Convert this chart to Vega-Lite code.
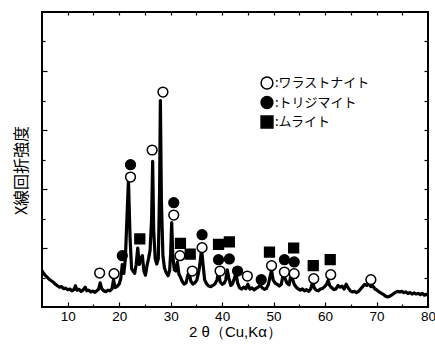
{
  "$schema": "https://vega.github.io/schema/vega-lite/v6.json",
  "width": 386,
  "height": 295,
  "autosize": {"type": "none"},
  "padding": {"left": 42, "top": 12, "right": 7, "bottom": 51},
  "background": "white",
  "config": {
    "view": {"stroke": "black", "strokeWidth": 2},
    "axis": {"domain": false, "grid": false, "tickColor": "black", "tickWidth": 1.2, "labelColor": "black", "titleColor": "black"}
  },
  "resolve": {"axis": {"x": "independent", "y": "independent"}},
  "layer": [
    {
      "data": {"values": [
        {"two_theta":5.0,"intensity":620},{"two_theta":5.3,"intensity":570},{"two_theta":5.6,"intensity":540},{"two_theta":6.0,"intensity":505},{"two_theta":6.4,"intensity":470},{"two_theta":6.8,"intensity":445},{"two_theta":7.2,"intensity":420},{"two_theta":7.6,"intensity":385},{"two_theta":8.0,"intensity":360},{"two_theta":8.4,"intensity":335},{"two_theta":8.8,"intensity":345},{"two_theta":9.2,"intensity":310},{"two_theta":9.6,"intensity":320},{"two_theta":10.0,"intensity":290},{"two_theta":10.4,"intensity":305},{"two_theta":10.8,"intensity":275},{"two_theta":11.2,"intensity":295},{"two_theta":11.5,"intensity":360},{"two_theta":11.8,"intensity":285},{"two_theta":12.2,"intensity":300},{"two_theta":12.6,"intensity":265},{"two_theta":13.0,"intensity":290},{"two_theta":13.4,"intensity":335},{"two_theta":13.7,"intensity":275},{"two_theta":14.1,"intensity":285},{"two_theta":14.5,"intensity":255},{"two_theta":14.9,"intensity":270},{"two_theta":15.3,"intensity":250},{"two_theta":15.7,"intensity":280},{"two_theta":16.0,"intensity":300},{"two_theta":16.3,"intensity":410},{"two_theta":16.6,"intensity":310},{"two_theta":17.0,"intensity":275},{"two_theta":17.4,"intensity":260},{"two_theta":17.8,"intensity":285},{"two_theta":18.2,"intensity":275},{"two_theta":18.6,"intensity":310},{"two_theta":18.9,"intensity":460},{"two_theta":19.2,"intensity":330},{"two_theta":19.6,"intensity":350},{"two_theta":20.0,"intensity":390},{"two_theta":20.3,"intensity":480},{"two_theta":20.6,"intensity":720},{"two_theta":20.9,"intensity":570},{"two_theta":21.2,"intensity":820},{"two_theta":21.5,"intensity":1500},{"two_theta":21.8,"intensity":2150},{"two_theta":22.1,"intensity":1200},{"two_theta":22.4,"intensity":650},{"two_theta":22.7,"intensity":610},{"two_theta":23.0,"intensity":570},{"two_theta":23.3,"intensity":720},{"two_theta":23.6,"intensity":1000},{"two_theta":23.9,"intensity":720},{"two_theta":24.2,"intensity":830},{"two_theta":24.5,"intensity":870},{"two_theta":24.8,"intensity":610},{"two_theta":25.1,"intensity":540},{"two_theta":25.4,"intensity":700},{"two_theta":25.7,"intensity":820},{"two_theta":26.0,"intensity":960},{"two_theta":26.3,"intensity":1500},{"two_theta":26.5,"intensity":2470},{"two_theta":26.7,"intensity":1300},{"two_theta":27.0,"intensity":820},{"two_theta":27.3,"intensity":730},{"two_theta":27.6,"intensity":820},{"two_theta":27.85,"intensity":2000},{"two_theta":28.0,"intensity":3500},{"two_theta":28.2,"intensity":1800},{"two_theta":28.5,"intensity":860},{"two_theta":28.8,"intensity":660},{"two_theta":29.1,"intensity":590},{"two_theta":29.5,"intensity":530},{"two_theta":29.8,"intensity":620},{"two_theta":30.0,"intensity":920},{"two_theta":30.2,"intensity":1430},{"two_theta":30.4,"intensity":900},{"two_theta":30.7,"intensity":630},{"two_theta":31.0,"intensity":610},{"two_theta":31.3,"intensity":760},{"two_theta":31.6,"intensity":560},{"two_theta":31.9,"intensity":510},{"two_theta":32.2,"intensity":440},{"two_theta":32.6,"intensity":390},{"two_theta":33.0,"intensity":410},{"two_theta":33.3,"intensity":530},{"two_theta":33.6,"intensity":590},{"two_theta":33.9,"intensity":440},{"two_theta":34.3,"intensity":390},{"two_theta":34.7,"intensity":410},{"two_theta":35.1,"intensity":460},{"two_theta":35.5,"intensity":620},{"two_theta":35.8,"intensity":820},{"two_theta":36.0,"intensity":990},{"two_theta":36.3,"intensity":710},{"two_theta":36.6,"intensity":460},{"two_theta":37.0,"intensity":390},{"two_theta":37.4,"intensity":355},{"two_theta":37.8,"intensity":345},{"two_theta":38.2,"intensity":365},{"two_theta":38.6,"intensity":390},{"two_theta":39.0,"intensity":460},{"two_theta":39.3,"intensity":590},{"two_theta":39.6,"intensity":430},{"two_theta":40.0,"intensity":385},{"two_theta":40.4,"intensity":405},{"two_theta":40.7,"intensity":460},{"two_theta":41.0,"intensity":630},{"two_theta":41.3,"intensity":490},{"two_theta":41.7,"intensity":365},{"two_theta":42.0,"intensity":390},{"two_theta":42.4,"intensity":490},{"two_theta":42.7,"intensity":570},{"two_theta":43.0,"intensity":410},{"two_theta":43.4,"intensity":325},{"two_theta":43.8,"intensity":305},{"two_theta":44.2,"intensity":335},{"two_theta":44.6,"intensity":310},{"two_theta":45.0,"intensity":385},{"two_theta":45.4,"intensity":305},{"two_theta":45.8,"intensity":325},{"two_theta":46.2,"intensity":290},{"two_theta":46.6,"intensity":315},{"two_theta":47.0,"intensity":335},{"two_theta":47.4,"intensity":375},{"two_theta":47.8,"intensity":325},{"two_theta":48.2,"intensity":300},{"two_theta":48.6,"intensity":315},{"two_theta":49.0,"intensity":385},{"two_theta":49.3,"intensity":510},{"two_theta":49.6,"intensity":620},{"two_theta":49.9,"intensity":460},{"two_theta":50.3,"intensity":405},{"two_theta":50.7,"intensity":385},{"two_theta":51.1,"intensity":355},{"two_theta":51.5,"intensity":385},{"two_theta":51.9,"intensity":570},{"two_theta":52.2,"intensity":490},{"two_theta":52.6,"intensity":405},{"two_theta":53.0,"intensity":375},{"two_theta":53.4,"intensity":560},{"two_theta":53.7,"intensity":465},{"two_theta":54.0,"intensity":385},{"two_theta":54.4,"intensity":335},{"two_theta":54.8,"intensity":305},{"two_theta":55.2,"intensity":285},{"two_theta":55.6,"intensity":305},{"two_theta":56.0,"intensity":275},{"two_theta":56.4,"intensity":295},{"two_theta":56.8,"intensity":265},{"two_theta":57.2,"intensity":305},{"two_theta":57.6,"intensity":430},{"two_theta":57.9,"intensity":325},{"two_theta":58.3,"intensity":285},{"two_theta":58.7,"intensity":275},{"two_theta":59.1,"intensity":305},{"two_theta":59.5,"intensity":315},{"two_theta":59.9,"intensity":345},{"two_theta":60.3,"intensity":385},{"two_theta":60.6,"intensity":450},{"two_theta":60.9,"intensity":365},{"two_theta":61.3,"intensity":325},{"two_theta":61.7,"intensity":295},{"two_theta":62.1,"intensity":305},{"two_theta":62.5,"intensity":365},{"two_theta":62.9,"intensity":335},{"two_theta":63.3,"intensity":355},{"two_theta":63.7,"intensity":305},{"two_theta":64.1,"intensity":385},{"two_theta":64.5,"intensity":325},{"two_theta":64.9,"intensity":275},{"two_theta":65.3,"intensity":255},{"two_theta":65.7,"intensity":265},{"two_theta":66.1,"intensity":245},{"two_theta":66.5,"intensity":265},{"two_theta":66.9,"intensity":305},{"two_theta":67.3,"intensity":345},{"two_theta":67.7,"intensity":385},{"two_theta":68.1,"intensity":365},{"two_theta":68.5,"intensity":395},{"two_theta":68.9,"intensity":345},{"two_theta":69.3,"intensity":355},{"two_theta":69.7,"intensity":305},{"two_theta":70.1,"intensity":285},{"two_theta":70.5,"intensity":255},{"two_theta":70.9,"intensity":235},{"two_theta":71.3,"intensity":215},{"two_theta":71.7,"intensity":185},{"two_theta":72.1,"intensity":170},{"two_theta":72.5,"intensity":180},{"two_theta":72.9,"intensity":200},{"two_theta":73.3,"intensity":225},{"two_theta":73.7,"intensity":250},{"two_theta":74.1,"intensity":265},{"two_theta":74.5,"intensity":255},{"two_theta":74.9,"intensity":265},{"two_theta":75.3,"intensity":245},{"two_theta":75.7,"intensity":255},{"two_theta":76.1,"intensity":230},{"two_theta":76.5,"intensity":245},{"two_theta":76.9,"intensity":220},{"two_theta":77.3,"intensity":240},{"two_theta":77.7,"intensity":220},{"two_theta":78.1,"intensity":230},{"two_theta":78.5,"intensity":210},{"two_theta":78.9,"intensity":230},{"two_theta":79.3,"intensity":200},{"two_theta":79.7,"intensity":215},{"two_theta":80.0,"intensity":200}
      ]},
      "mark": {"type": "line", "color": "black", "strokeWidth": 3.2, "strokeJoin": "round", "clip": true},
      "encoding": {
        "x": {"field": "two_theta", "type": "quantitative", "scale": {"domain": [5, 80], "nice": false, "zero": false},
              "axis": {"orient": "bottom", "values": [10, 20, 30, 40, 50, 60, 70, 80], "tickSize": -5, "labelPadding": 7, "labelFont": "Liberation Sans", "labelFontSize": 13.5, "labelFlush": false,
                       "title": "2 θ（Cu,Kα）", "titleFont": "Liberation Sans", "titleFontSize": 15, "titleFontWeight": "normal", "titleY": 29, "titleBaseline": "alphabetic"}},
        "y": {"field": "intensity", "type": "quantitative", "scale": {"domain": [0, 5000], "nice": false},
              "axis": {"orient": "left", "values": [1000, 2000, 3000, 4000], "tickSize": -5, "labels": false,
                       "title": "X線回折強度", "titleFont": "Noto Sans CJK JP", "titleFontSize": 16, "titleFontWeight": "normal", "titleX": -21, "titleY": 158, "titleBaseline": "middle", "titleAngle": 270}}
      }
    },
    {
      "data": {"values": [
        {"two_theta":16.2,"intensity":576,"phase":"ワラストナイト"},
        {"two_theta":19.0,"intensity":565,"phase":"ワラストナイト"},
        {"two_theta":22.2,"intensity":2203,"phase":"ワラストナイト"},
        {"two_theta":26.4,"intensity":2661,"phase":"ワラストナイト"},
        {"two_theta":28.5,"intensity":3644,"phase":"ワラストナイト"},
        {"two_theta":30.6,"intensity":1559,"phase":"ワラストナイト"},
        {"two_theta":31.8,"intensity":870,"phase":"ワラストナイト"},
        {"two_theta":34.2,"intensity":610,"phase":"ワラストナイト"},
        {"two_theta":36.1,"intensity":1006,"phase":"ワラストナイト"},
        {"two_theta":39.6,"intensity":610,"phase":"ワラストナイト"},
        {"two_theta":44.9,"intensity":525,"phase":"ワラストナイト"},
        {"two_theta":49.6,"intensity":700,"phase":"ワラストナイト"},
        {"two_theta":52.1,"intensity":593,"phase":"ワラストナイト"},
        {"two_theta":54.0,"intensity":565,"phase":"ワラストナイト"},
        {"two_theta":57.8,"intensity":480,"phase":"ワラストナイト"},
        {"two_theta":61.1,"intensity":548,"phase":"ワラストナイト"},
        {"two_theta":68.9,"intensity":463,"phase":"ワラストナイト"},
        {"two_theta":20.6,"intensity":870,"phase":"トリジマイト"},
        {"two_theta":22.2,"intensity":2412,"phase":"トリジマイト"},
        {"two_theta":30.6,"intensity":1768,"phase":"トリジマイト"},
        {"two_theta":36.1,"intensity":1226,"phase":"トリジマイト"},
        {"two_theta":39.3,"intensity":802,"phase":"トリジマイト"},
        {"two_theta":41.4,"intensity":814,"phase":"トリジマイト"},
        {"two_theta":43.0,"intensity":610,"phase":"トリジマイト"},
        {"two_theta":47.6,"intensity":463,"phase":"トリジマイト"},
        {"two_theta":52.1,"intensity":802,"phase":"トリジマイト"},
        {"two_theta":54.0,"intensity":763,"phase":"トリジマイト"},
        {"two_theta":24.0,"intensity":1153,"phase":"ムライト"},
        {"two_theta":31.9,"intensity":1079,"phase":"ムライト"},
        {"two_theta":33.8,"intensity":898,"phase":"ムライト"},
        {"two_theta":39.3,"intensity":1062,"phase":"ムライト"},
        {"two_theta":41.4,"intensity":1102,"phase":"ムライト"},
        {"two_theta":49.2,"intensity":932,"phase":"ムライト"},
        {"two_theta":53.9,"intensity":1000,"phase":"ムライト"},
        {"two_theta":57.7,"intensity":700,"phase":"ムライト"},
        {"two_theta":61.0,"intensity":802,"phase":"ムライト"}
      ]},
      "mark": {"type": "point", "filled": true, "stroke": "black", "strokeWidth": 1.5, "opacity": 1, "size": 95},
      "encoding": {
        "x": {"field": "two_theta", "type": "quantitative", "scale": {"domain": [5, 80], "nice": false, "zero": false},
              "axis": {"orient": "top", "values": [10, 15, 20, 25, 30, 35, 40, 45, 50, 55, 60, 65, 70, 75], "tickSize": -3, "labels": false, "title": null}},
        "y": {"field": "intensity", "type": "quantitative", "scale": {"domain": [0, 5000], "nice": false},
              "axis": {"orient": "right", "values": [500, 1000, 1500, 2000, 2500, 3000, 3500, 4000, 4500], "tickSize": -4, "labels": false, "title": null}},
        "shape": {"field": "phase", "type": "nominal",
                  "scale": {"domain": ["ワラストナイト", "トリジマイト", "ムライト"], "range": ["circle", "circle", "square"]},
                  "legend": {"orient": "none", "legendX": 218, "legendY": 64, "title": null, "padding": 0, "symbolSize": 140, "symbolStrokeColor": "black", "symbolStrokeWidth": 1.5, "symbolOpacity": 1, "labelFont": "Noto Sans CJK JP", "labelFontSize": 13, "labelColor": "black", "labelOffset": 1, "rowPadding": 1.5, "labelExpr": "':' + datum.label",
                             "encode": {"symbols": {"update": {"stroke": {"value": "black"}, "strokeWidth": {"value": 1.5}, "opacity": {"value": 1}}}}}},
        "fill": {"field": "phase", "type": "nominal",
                 "scale": {"domain": ["ワラストナイト", "トリジマイト", "ムライト"], "range": ["white", "black", "black"]},
                 "legend": {"orient": "none", "legendX": 218, "legendY": 64, "title": null, "padding": 0, "symbolSize": 140, "symbolStrokeColor": "black", "symbolStrokeWidth": 1.5, "symbolOpacity": 1, "labelFont": "Noto Sans CJK JP", "labelFontSize": 13, "labelColor": "black", "labelOffset": 1, "rowPadding": 1.5, "labelExpr": "':' + datum.label",
                            "encode": {"symbols": {"update": {"stroke": {"value": "black"}, "strokeWidth": {"value": 1.5}, "opacity": {"value": 1}}}}}}
      }
    },
    {
      "data": {"values": [{"two_theta": 5, "intensity": 0}]},
      "mark": {"type": "point", "opacity": 0},
      "encoding": {
        "x": {"field": "two_theta", "type": "quantitative", "scale": {"domain": [5, 80], "nice": false, "zero": false},
              "axis": {"orient": "bottom", "values": [15, 25, 35, 45, 55, 65, 75], "tickSize": -3, "labels": false, "title": null}},
        "y": {"field": "intensity", "type": "quantitative", "scale": {"domain": [0, 5000], "nice": false},
              "axis": {"orient": "left", "values": [500, 1500, 2500, 3500, 4500], "tickSize": -3, "labels": false, "title": null}}
      }
    }
  ]
}
